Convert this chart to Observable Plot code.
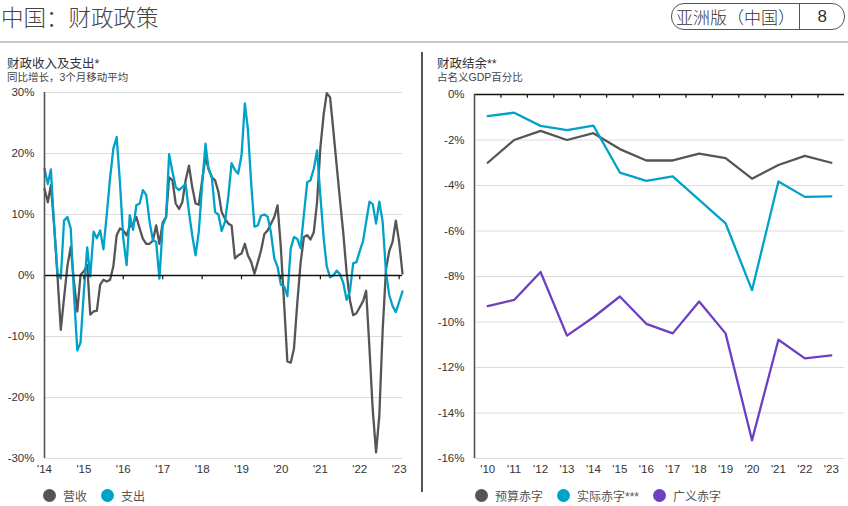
<!DOCTYPE html>
<html><head><meta charset="utf-8">
<script src="https://cdn.jsdelivr.net/npm/d3@7"></script>
<script src="https://cdn.jsdelivr.net/npm/@observablehq/plot@0.6"></script>
<style>
body{margin:0;width:848px;height:506px;background:#fff;position:relative;overflow:hidden;
 font-family:"Liberation Sans",Arial,"Noto Sans CJK SC",sans-serif;color:#333}
.abs{position:absolute;white-space:nowrap}
.t1{font-size:12.5px;color:#333}
.t2{font-size:10.5px;color:#444}
.leg{font-size:12px;color:#555;display:flex;align-items:center}
.dot{display:inline-block;width:13px;height:13px;border-radius:50%;margin-right:7px}
.item{display:flex;align-items:center;margin-right:14px}
</style></head><body>
<div class="abs" style="left:1px;top:0px;font-size:22.5px;color:#444;font-family:'Noto Sans CJK SC',sans-serif;font-weight:300">中国：财政政策</div>
<div class="abs" style="left:671px;top:3px;width:172px;height:25px;border:1.3px solid #555;border-radius:13px;display:flex;align-items:center;font-family:'Noto Sans CJK SC',sans-serif;font-size:17px;color:#333;font-weight:300">
  <div style="width:127px;text-align:center">亚洲版（中国）</div>
  <div style="width:1.3px;height:25px;background:#555"></div>
  <div style="flex:1;text-align:center;font-family:'Liberation Sans',Arial;font-size:17px">8</div>
</div>
<div class="abs" style="left:0;top:41px;width:848px;height:2px;background:#c8c8c8"></div>
<div class="abs" style="left:421px;top:52px;width:1.5px;height:440px;background:#555"></div>

<div class="abs t1" style="left:7px;top:53px">财政收入及支出*</div>
<div class="abs t2" style="left:7px;top:69px">同比增长，3个月移动平均</div>
<div class="abs t1" style="left:437px;top:53px">财政结余**</div>
<div class="abs t2" style="left:437px;top:69px">占名义GDP百分比</div>

<div id="left" class="abs" style="left:0;top:80px"></div>
<div id="right" class="abs" style="left:421px;top:80px"></div>
<div id="legL" class="abs leg" style="left:43px;top:487px"></div>
<div id="legR" class="abs leg" style="left:475px;top:487px"></div>

<script>
// ---- Left chart data: monthly, starting Jan 2014 (YoY %, 3m moving avg) ----
const seriesLeft = ["营收", "支出"];
const revenue = [14.2,12,14.8,8,0,-8.9,-3.7,1.5,4.7,-1,-5.9,0.1,
 0.7,1.7,-6.4,-5.9,-5.8,-1.5,-0.7,-1,-0.7,1.5,6.6,7.7,
 7.4,6.6,8,8.5,9.6,7.7,6,5.2,5.2,5.7,8.2,5.2,
 8.7,9.6,16.1,15.6,11.8,10.9,12,15.6,18,14.5,11.8,11.6,
 15.6,19.4,17.5,16.1,15.6,13.7,10.4,9.3,8.5,8.2,2.8,3.3,
 3.6,5.2,3.3,2.2,0.3,2.2,4.1,6.8,7.4,8.5,9.6,11.5,
 4.5,-5,-14.1,-14.3,-12,-4.5,2,6.3,6.6,5.9,7.1,12,
 21,26.5,29.9,29.2,23.8,18,12.5,7,0.5,-4,-6.5,-6.2,
 -5.2,-4.2,-2.5,-12,-22,-29,-23,-9,1,4,5.5,9,
 5.5,0.3];
const expenditure = [17.5,15,17.4,8,0.5,-0.5,9,9.6,7.7,-3,-12.3,-11,
 -2.6,4.6,-0.2,7.2,6.1,7.4,4.3,10,16,20.8,22.7,15.3,
 6.1,1.7,9.9,7.5,11.5,11.8,14,13.2,8.8,5.8,5.5,-0.5,
 8.2,9.6,19.9,17,14.5,14,14.5,15,10.4,6.6,3.3,7.2,
 14.8,21.6,17.5,16.1,10.4,10,7.3,8.8,13,18.4,17.3,16.7,
 19.7,28.2,24,15,8,8.2,9.8,10,9.6,7,2.8,1.4,
 -1.5,-1.8,-3.4,4.4,6.3,6,4.5,10,15.3,15.6,17.5,20.5,
 13,6,1.5,-0.3,0,0.8,0.2,-1.2,-4,-2.6,2,2.2,
 4,5.7,8.8,12.1,11.7,8.5,12.1,8.8,0.6,-3.2,-5,-6,
 -4.3,-2.6];
const leftYears = [2014,2015,2016,2017,2018,2019,2020,2021,2022,2023];
const leftYearLabels = ["'14","'15","'16","'17","'18","'19","'20","'21","'22","'23"];
const leftYTicks = [-30,-20,-10,0,10,20,30];

// ---- Right chart data: annual, % of nominal GDP ----
const seriesRight = ["预算赤字", "实际赤字***", "广义赤字"];
const years = [2010,2011,2012,2013,2014,2015,2016,2017,2018,2019,2020,2021,2022,2023];
const rightYearLabels = ["'10","'11","'12","'13","'14","'15","'16","'17","'18","'19","'20","'21","'22","'23"];
const budgetDeficit = [-3.0,-2.0,-1.6,-2.0,-1.7,-2.4,-2.9,-2.9,-2.6,-2.8,-3.7,-3.1,-2.7,-3.0];
const actualDeficit = [-0.95,-0.8,-1.38,-1.57,-1.37,-3.43,-3.8,-3.6,-4.63,-5.66,-8.6,-3.82,-4.5,-4.48];
const augmentedDeficit = [-9.3,-9.03,-7.8,-10.6,-9.79,-8.88,-10.08,-10.5,-9.1,-10.5,-15.2,-10.78,-11.6,-11.47];
const rightYTicks = [0,-2,-4,-6,-8,-10,-12,-14,-16];

const colorsLeft = ["#555557", "#00a2c7"];
const colorsRight = ["#555557", "#00a2c7", "#6e3fc0"];
const font = "'Liberation Sans', Arial, 'Noto Sans CJK SC', sans-serif";

// ---- Left chart ----
const mdate = i => new Date(Date.UTC(2014, i, 1));
const leftData = [];
revenue.forEach((v, i) => leftData.push({date: mdate(i), v, s: seriesLeft[0]}));
expenditure.forEach((v, i) => leftData.push({date: mdate(i), v, s: seriesLeft[1]}));
const yearDates = leftYears.map(y => new Date(Date.UTC(y, 0, 1)));
const xStart = mdate(0), xEnd = mdate(revenue.length - 1);

const left = Plot.plot({
  width: 420, height: 398,
  marginLeft: 44, marginRight: 18, marginTop: 12, marginBottom: 20,
  style: {fontFamily: font, fontSize: "11.5px", color: "#333", background: "transparent"},
  x: {type: "utc", domain: [xStart, xEnd]},
  y: {domain: [-30, 30]},
  color: {domain: seriesLeft, range: colorsLeft},
  marks: [
    Plot.gridY(leftYTicks, {stroke: "#dcdcdc", strokeOpacity: 1, strokeWidth: 1}),
    Plot.axisY(leftYTicks, {tickSize: 0, tickPadding: 10, tickFormat: d => d + "%", label: null}),
    Plot.axisX(yearDates, {tickSize: 0, tickPadding: 6, tickFormat: (d, i) => leftYearLabels[leftYears.indexOf(d.getUTCFullYear())], label: null, fontSize: 11.5}),
    Plot.line(leftData, {x: "date", y: "v", stroke: "s", z: "s", strokeWidth: 2.3}),
    Plot.ruleY([0], {stroke: "#111", strokeWidth: 1.3}),
    Plot.ruleX(yearDates, {y1: 0, y2: -0.7, stroke: "#111", strokeWidth: 1.2}),
    Plot.ruleX([xStart], {stroke: "#555", strokeWidth: 1.6})
  ]
});
document.getElementById("left").appendChild(left);

// ---- Right chart ----
const rightData = [];
[budgetDeficit, actualDeficit, augmentedDeficit].forEach((arr, k) =>
  arr.forEach((v, i) => rightData.push({year: years[i], v, s: seriesRight[k]})));
const bounds = years.slice(0, -1).map(y => y + 0.5);
const xMin = years[0] - 0.5, xMax = years[years.length - 1] + 0.5;

const right = Plot.plot({
  width: 427, height: 398,
  marginLeft: 53, marginRight: 4, marginTop: 14, marginBottom: 20,
  style: {fontFamily: font, fontSize: "11.5px", color: "#333", background: "transparent"},
  x: {domain: [xMin, xMax]},
  y: {domain: [-16, 0]},
  color: {domain: seriesRight, range: colorsRight},
  marks: [
    Plot.gridY(rightYTicks, {stroke: "#dcdcdc", strokeOpacity: 1, strokeWidth: 1}),
    Plot.axisY(rightYTicks, {tickSize: 0, tickPadding: 10, tickFormat: d => d + "%", label: null}),
    Plot.axisX(years, {tickSize: 0, tickPadding: 6, tickFormat: (d) => rightYearLabels[years.indexOf(d)], label: null, fontSize: 11.5}),
    Plot.line(rightData, {x: "year", y: "v", stroke: "s", z: "s", strokeWidth: 2.3}),
    Plot.ruleY([0], {stroke: "#111", strokeWidth: 1.3}),
    Plot.ruleX(bounds, {y1: 0, y2: -0.17, stroke: "#111", strokeWidth: 1.2}),
    Plot.ruleX([xMin], {stroke: "#555", strokeWidth: 1.6})
  ]
});
document.getElementById("right").appendChild(right);

// ---- Legends ----
function legend(el, names, colors) {
  names.forEach((n, i) => {
    const it = document.createElement("div"); it.className = "item";
    const d = document.createElement("span"); d.className = "dot"; d.style.background = colors[i];
    const t = document.createElement("span"); t.textContent = n;
    it.appendChild(d); it.appendChild(t); el.appendChild(it);
  });
}
legend(document.getElementById("legL"), seriesLeft, colorsLeft);
legend(document.getElementById("legR"), seriesRight, colorsRight);
</script>
</body></html>
